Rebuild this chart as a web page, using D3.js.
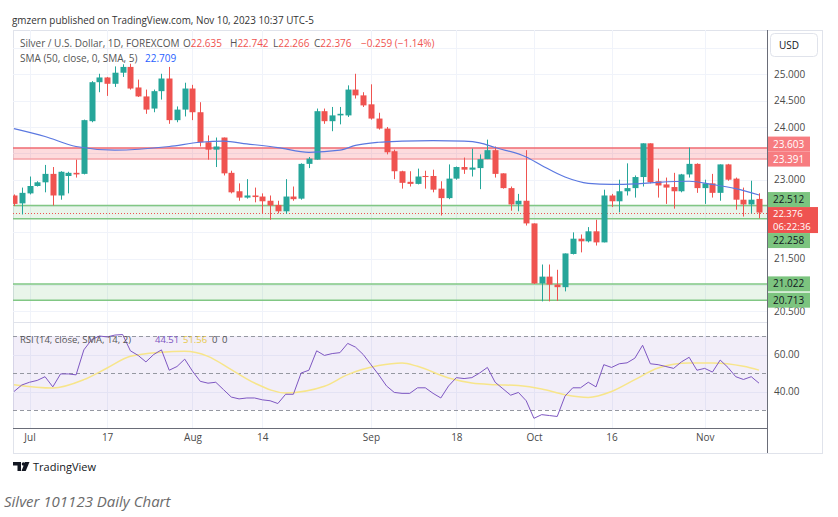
<!DOCTYPE html>
<html>
<head>
<meta charset="utf-8">
<script src="https://cdn.jsdelivr.net/npm/d3@7"></script>
<style>
  body { margin: 0; background: #fff; }
  text { font-family: "Open Sans", sans-serif; }
</style>
</head>
<body>
<div id="chart"></div>
<script>
// daily candles, Jun 29 -> Nov 10 2023 (index 0..96)
var open  = [22.70,22.55,22.74,22.88,22.95,23.11,22.70,23.07,23.13,23.11,24.11,24.85,24.94,24.82,25.03,25.14,24.75,24.58,24.35,24.68,
             24.92,24.13,24.33,24.73,24.28,23.71,23.57,23.80,23.13,22.78,22.66,22.70,22.68,22.60,22.52,22.40,22.68,22.64,23.30,23.38,
             24.30,24.11,24.22,24.22,24.71,24.60,24.43,24.16,23.97,23.54,23.16,22.96,22.92,23.07,23.07,22.83,22.65,23.02,23.24,23.19,
             23.22,23.39,23.56,23.12,22.84,22.53,22.60,22.17,21.03,21.16,21.01,20.96,21.59,21.88,21.83,22.02,21.81,22.70,22.59,22.78,
             22.84,23.05,23.69,22.97,22.91,22.86,22.78,23.10,23.30,22.84,22.93,22.75,23.29,23.02,22.62,22.53,22.635];
var high  = [22.72,22.85,23.06,22.97,23.28,23.24,23.16,23.15,23.38,24.14,24.87,25.01,24.95,25.15,25.19,25.20,24.90,24.71,24.71,25.01,
             25.14,24.39,24.84,24.80,24.47,23.84,23.80,23.80,23.17,22.93,23.01,22.85,22.74,22.70,22.60,23.01,22.87,23.31,23.43,24.35,
             24.35,24.38,24.38,24.79,25.01,24.66,24.81,24.27,24.00,23.57,23.17,23.16,23.21,23.17,23.19,22.97,23.29,23.25,23.42,23.59,
             23.48,23.76,23.63,23.12,22.87,22.73,23.56,22.17,21.39,21.39,21.29,21.60,22.00,21.96,22.10,22.24,22.81,22.73,23.00,23.31,
             23.08,23.69,23.69,23.21,23.04,23.13,23.11,23.61,23.31,23.00,23.11,23.29,23.30,23.04,22.85,22.98,22.742];
var low   = [22.50,22.34,22.72,22.87,22.76,22.51,22.62,22.74,23.04,23.10,24.09,24.66,24.59,24.76,24.95,24.71,24.57,24.25,24.28,24.52,
             24.06,24.09,24.20,24.13,23.63,23.38,23.24,23.08,22.74,22.60,22.64,22.57,22.36,22.24,22.36,22.35,22.60,22.62,23.22,23.38,
             24.06,23.92,24.05,24.19,24.54,24.38,24.14,23.95,23.48,23.01,22.83,22.87,22.91,22.83,22.76,22.32,22.63,23.00,23.11,23.06,
             22.82,23.39,23.04,22.83,22.41,22.40,22.13,21.02,20.69,20.69,20.70,20.88,21.58,21.62,21.81,21.75,21.81,22.48,22.38,22.70,
             22.66,22.87,22.93,22.66,22.54,22.45,22.76,23.04,22.75,22.54,22.66,22.60,22.98,22.43,22.30,22.36,22.266];
var close = [22.54,22.75,22.88,22.95,23.11,22.70,23.15,23.13,23.10,24.13,24.85,24.94,24.82,25.03,25.14,24.73,24.58,24.33,24.68,24.92,
             24.13,24.33,24.73,24.28,23.71,23.57,23.63,23.12,22.76,22.66,22.70,22.67,22.59,22.51,22.40,22.68,22.63,23.30,23.40,24.30,
             24.11,24.22,24.25,24.71,24.60,24.41,24.16,23.97,23.52,23.16,22.94,22.92,23.06,23.05,22.81,22.65,23.02,23.24,23.19,23.23,
             23.39,23.56,23.11,22.84,22.53,22.60,22.17,21.03,21.16,21.01,20.96,21.60,21.88,21.83,22.02,21.81,22.70,22.59,22.78,22.84,
             23.05,23.69,22.95,22.89,22.85,22.78,23.10,23.30,22.84,22.93,22.75,23.29,23.00,22.62,22.53,22.62,22.376];

// SMA 50 (candle index, value)
var smaIdx = [0,4,8,13,20,24,27,30,34,38,42,44,47,50,54,58,60,62,66,68,71,74,77,80,83,87,90,93,96];
var smaVal = [23.97,23.82,23.63,23.56,23.63,23.71,23.73,23.68,23.61,23.52,23.56,23.65,23.71,23.73,23.74,23.73,23.70,23.61,23.43,23.27,23.05,22.93,22.91,22.92,22.95,22.97,22.91,22.83,22.709];

// RSI 14 per candle
var rsi = [40,43.5,45,46,48,42.5,49.5,49.5,49,62.5,68,70,69.5,70.5,70.8,62,59.5,56,60,62.5,
           51.5,53.5,57.5,51,45.5,44.5,45,41,37,36,36.5,36.5,35.5,35,33.5,38.5,38.5,50,51.5,62,
           59.5,60.5,61,66,64,60,54.5,49,43,39.5,39,39,42,42,39,36.5,43,47.5,47,47.5,
           50,53,45,41.5,38,39.5,35,25.5,27.5,27,26.5,37.5,42,42,45,42.5,54.5,53,55,55.5,
           58,65,55,54.5,53.5,52.5,56,58.5,51.5,52.5,50.5,57,53,48,46.5,48,44.51];
// RSI smoothing line (candle index, value)
var rsiSmaIdx = [0,5,9,12,15,19,22,25,28,31,35,40,43,47,50,52,56,59,62,65,68,71,74,77,80,83,87,90,94,96];
var rsiSmaVal = [43.7,41.9,46.4,52.7,59,61.2,61.7,59,51.8,44.6,39.2,42.8,49.1,54,55.4,53.6,47.3,44.6,43.7,43.2,41.4,38.3,36.8,40,46.4,52.7,55.4,55.4,53.6,51.56];

// horizontal zones
var redZone = [23.391, 23.603];
var greenZones = [[22.258, 22.512], [20.713, 21.022]];
var lastPrice = 22.376, countdown = "06:22:36";

// axes
var tickIdx = [2, 12, 23, 32, 46, 57, 67, 77, 89];
var tickLabels = ["Jul", "17", "Aug", "14", "Sep", "18", "Oct", "16", "Nov"];
var priceTicks = [25, 24.5, 24, 23, 21.5, 20.5];
var priceGrid = [25.5, 25, 24.5, 24, 23.5, 23, 22.5, 22, 21.5, 21, 20.5];
var rsiTicks = [60, 40];

var W = 838, H = 517;
var plotL = 13, axisX = 767, plotR = 822;
var plotT = 30, pane1B = 322, pane2T = 323, pane2B = 428, plotB = 453;

var up = "#26a69a", down = "#ef5350";
var fs = "10px";

var svg = d3.select("#chart").append("svg")
    .attr("width", W).attr("height", H);

svg.append("rect").attr("width", W).attr("height", H).attr("fill", "#fff");

var x = d3.scaleLinear().domain([0, 96]).range([14, 759]);
var y = d3.scaleLinear().domain([20.5, 25]).range([311.4, 74.3]);
var yr = d3.scaleLinear().domain([30, 70]).range([410, 336]);

var defs = svg.append("defs");
defs.append("clipPath").attr("id", "clipP").append("rect")
    .attr("x", plotL).attr("y", plotT).attr("width", axisX - plotL).attr("height", pane1B - plotT);
defs.append("clipPath").attr("id", "clipR").append("rect")
    .attr("x", plotL).attr("y", pane2T).attr("width", axisX - plotL).attr("height", pane2B - pane2T);

// header
svg.append("text").attr("x", 12).attr("y", 24)
    .style("font-size", "9.9px").attr("fill", "#333")
    .text("gmzern published on TradingView.com, Nov 10, 2023 10:37 UTC-5");

// frame
svg.append("rect").attr("x", plotL + 0.5).attr("y", plotT + 0.5)
    .attr("width", plotR - plotL).attr("height", plotB - plotT)
    .attr("fill", "none").attr("stroke", "#e0e3eb");

// grid
var grid = svg.append("g").attr("stroke", "#f0f3fa").attr("stroke-width", 1);
priceGrid.forEach(function (p) {
    grid.append("line").attr("x1", plotL).attr("x2", axisX)
        .attr("y1", Math.round(y(p)) + 0.5).attr("y2", Math.round(y(p)) + 0.5);
});
rsiTicks.forEach(function (r) {
    grid.append("line").attr("x1", plotL).attr("x2", axisX)
        .attr("y1", Math.round(yr(r)) + 0.5).attr("y2", Math.round(yr(r)) + 0.5);
});
tickIdx.forEach(function (i) {
    grid.append("line").attr("y1", plotT).attr("y2", pane2B)
        .attr("x1", Math.round(x(i)) + 0.5).attr("x2", Math.round(x(i)) + 0.5);
});

// price pane
var pp = svg.append("g").attr("clip-path", "url(#clipP)");

pp.append("rect").attr("x", plotL).attr("width", axisX - plotL)
    .attr("y", y(redZone[1])).attr("height", y(redZone[0]) - y(redZone[1]))
    .attr("fill", "rgba(242,54,69,0.18)");
pp.append("line").attr("x1", plotL).attr("x2", axisX)
    .attr("y1", y(redZone[1])).attr("y2", y(redZone[1]))
    .attr("stroke", "#ef6b72").attr("stroke-width", 1.5);
pp.append("line").attr("x1", plotL).attr("x2", axisX)
    .attr("y1", y(redZone[0])).attr("y2", y(redZone[0]))
    .attr("stroke", "#f5a3a7").attr("stroke-width", 1.5);

greenZones.forEach(function (z) {
    pp.append("rect").attr("x", plotL).attr("width", axisX - plotL)
        .attr("y", y(z[1])).attr("height", y(z[0]) - y(z[1]))
        .attr("fill", "rgba(76,175,80,0.12)");
    z.forEach(function (v) {
        pp.append("line").attr("x1", plotL).attr("x2", axisX)
            .attr("y1", y(v)).attr("y2", y(v))
            .attr("stroke", "#81c784").attr("stroke-width", 1.5);
    });
});

// last price dotted line
pp.append("line").attr("x1", plotL).attr("x2", axisX)
    .attr("y1", Math.round(y(lastPrice)) + 0.5).attr("y2", Math.round(y(lastPrice)) + 0.5)
    .attr("stroke", down).attr("stroke-dasharray", "1,2");

// candles
var candles = pp.append("g").selectAll("g")
    .data(d3.range(open.length))
    .enter().append("g")
    .attr("fill", function (i) { return close[i] >= open[i] ? up : down; })
    .attr("stroke", function (i) { return close[i] >= open[i] ? up : down; });

candles.append("line")
    .attr("x1", function (i) { return Math.round(x(i)) + 0.5; })
    .attr("x2", function (i) { return Math.round(x(i)) + 0.5; })
    .attr("y1", function (i) { return y(high[i]); })
    .attr("y2", function (i) { return y(low[i]); })
    .attr("stroke-width", 1);

candles.append("rect")
    .attr("x", function (i) { return Math.round(x(i)) - 2.5; })
    .attr("width", 6)
    .attr("y", function (i) { return y(Math.max(open[i], close[i])); })
    .attr("height", function (i) { return Math.max(1, Math.abs(y(open[i]) - y(close[i]))); })
    .attr("stroke", "none");

// SMA 50
pp.append("path")
    .datum(smaIdx)
    .attr("fill", "none").attr("stroke", "#5b78e0").attr("stroke-width", 1.2)
    .attr("d", d3.line()
        .x(function (d) { return x(d); })
        .y(function (d, k) { return y(smaVal[k]); })
        .curve(d3.curveMonotoneX));

// legends
var lg = svg.append("g").style("font-size", fs);
lg.append("text").attr("x", 20).attr("y", 47).attr("fill", "#555")
    .text("Silver / U.S. Dollar, 1D, FOREXCOM");
var ohlc = [["O", "22.635", 183], ["H", "22.742", 230], ["L", "22.266", 273], ["C", "22.376", 314]];
ohlc.forEach(function (o) {
    var t = lg.append("text").attr("x", o[2]).attr("y", 47);
    t.append("tspan").attr("fill", "#555").text(o[0]);
    t.append("tspan").attr("fill", down).text(o[1]);
});
lg.append("text").attr("x", 361).attr("y", 47).attr("fill", down).text("\u22120.259 (\u22121.14%)");
lg.append("text").attr("x", 20).attr("y", 62).attr("fill", "#555").text("SMA (50, close, 0, SMA, 5)");
lg.append("text").attr("x", 145).attr("y", 62).attr("fill", "#2962ff").text("22.709");

// RSI pane
svg.append("line").attr("x1", plotL).attr("x2", axisX)
    .attr("y1", pane1B + 0.5).attr("y2", pane1B + 0.5).attr("stroke", "#e0e3eb");

var rp = svg.append("g").attr("clip-path", "url(#clipR)");
rp.append("rect").attr("x", plotL).attr("width", axisX - plotL)
    .attr("y", yr(70)).attr("height", yr(30) - yr(70))
    .attr("fill", "rgba(126,87,194,0.1)");
[70, 50, 30].forEach(function (v) {
    rp.append("line").attr("x1", plotL).attr("x2", axisX)
        .attr("y1", Math.round(yr(v)) + 0.5).attr("y2", Math.round(yr(v)) + 0.5)
        .attr("stroke", "#9598a1").attr("stroke-dasharray", "4,3");
});
rp.append("path")
    .datum(rsiSmaIdx)
    .attr("fill", "none").attr("stroke", "#f7e58a").attr("stroke-width", 1.5)
    .attr("d", d3.line()
        .x(function (d) { return x(d); })
        .y(function (d, k) { return yr(rsiSmaVal[k]); })
        .curve(d3.curveMonotoneX));
rp.append("path")
    .datum(rsi)
    .attr("fill", "none").attr("stroke", "#7e57c2").attr("stroke-width", 1)
    .attr("d", d3.line()
        .x(function (d, i) { return x(i); })
        .y(function (d) { return yr(d); }));

var rl = svg.append("g").style("font-size", "9.5px");
rl.append("text").attr("x", 20).attr("y", 343).attr("fill", "#555").text("RSI (14, close, SMA, 14, 2)");
rl.append("text").attr("x", 155).attr("y", 343).attr("fill", "#7e57c2").text("44.51");
rl.append("text").attr("x", 183).attr("y", 343).attr("fill", "#e8c94a").text("51.56");
rl.append("text").attr("x", 212).attr("y", 343).attr("fill", "#555").text("0");
rl.append("text").attr("x", 222).attr("y", 343).attr("fill", "#555").text("0");

// axes lines
svg.append("line").attr("x1", axisX + 0.5).attr("x2", axisX + 0.5)
    .attr("y1", plotT).attr("y2", plotB).attr("stroke", "#6a6d78");
svg.append("line").attr("x1", plotL).attr("x2", axisX)
    .attr("y1", pane2B + 0.5).attr("y2", pane2B + 0.5).attr("stroke", "#6a6d78");

// right price axis
var yAxis = svg.append("g")
    .attr("transform", "translate(" + axisX + ",0)")
    .call(d3.axisRight(y).tickValues(priceTicks).tickSize(0).tickPadding(7).tickFormat(d3.format(".3f")));
yAxis.select(".domain").remove();
yAxis.selectAll("text").style("font-size", fs).attr("fill", "#4a4a4a").style("font-family", "Open Sans");

var rAxis = svg.append("g")
    .attr("transform", "translate(" + axisX + ",0)")
    .call(d3.axisRight(yr).tickValues(rsiTicks).tickSize(0).tickPadding(7).tickFormat(d3.format(".2f")));
rAxis.select(".domain").remove();
rAxis.selectAll("text").style("font-size", fs).attr("fill", "#4a4a4a").style("font-family", "Open Sans");

// time axis
var xAxis = svg.append("g")
    .attr("transform", "translate(0," + pane2B + ")")
    .call(d3.axisBottom(x).tickValues(tickIdx).tickSize(0).tickPadding(6)
        .tickFormat(function (d, k) { return tickLabels[k]; }));
xAxis.select(".domain").remove();
xAxis.selectAll("text").style("font-size", fs).attr("fill", "#4a4a4a").style("font-family", "Open Sans");

// price labels on the axis, pushed apart around the last price
var labels = [
    { v: redZone[1], fill: "#f77c80", txt: "#fff" },
    { v: redZone[0], fill: "#f77c80", txt: "#fff" },
    { v: greenZones[0][1], fill: "#7cc47f", txt: "#131722" },
    { v: lastPrice, fill: down, txt: "#fff", cur: true },
    { v: greenZones[0][0], fill: "#7cc47f", txt: "#131722" },
    { v: greenZones[1][1], fill: "#7cc47f", txt: "#131722" },
    { v: greenZones[1][0], fill: "#7cc47f", txt: "#131722" }
];
labels.forEach(function (l) {
    l.h = l.cur ? 26 : 15;
    l.top = l.cur ? y(l.v) - 5.5 : y(l.v) - 7.5;
});
var ci = 3;
for (var k = ci - 1; k >= 0; k--) {
    var below = labels[k + 1];
    if (labels[k].top + labels[k].h > below.top) labels[k].top = below.top - labels[k].h;
}
for (var k = ci + 1; k < labels.length; k++) {
    var above = labels[k - 1];
    if (labels[k].top < above.top + above.h) labels[k].top = above.top + above.h;
}
var lb = svg.append("g").style("font-size", fs);
labels.forEach(function (l) {
    lb.append("rect").attr("x", axisX + 1).attr("y", l.top)
        .attr("width", l.cur ? 50 : 42).attr("height", l.h)
        .attr("fill", l.fill);
    if (l.cur) {
        lb.append("text").attr("x", axisX + 6).attr("y", l.top + 10).attr("fill", l.txt)
            .style("font-size", "9.5px").text(l.v.toFixed(3));
        lb.append("text").attr("x", axisX + 6).attr("y", l.top + 23).attr("fill", l.txt)
            .style("font-size", "9.5px").text(countdown);
    } else {
        lb.append("text").attr("x", axisX + 6).attr("y", l.top + 11).attr("fill", l.txt).text(l.v.toFixed(3));
    }
});

// USD button
svg.append("rect").attr("x", 770.5).attr("y", 33.5).attr("width", 47).attr("height", 23).attr("rx", 4)
    .attr("fill", "#fff").attr("stroke", "#e0e3eb");
svg.append("text").attr("x", 779).attr("y", 49).style("font-size", "10px").attr("fill", "#131722").text("USD");

// TradingView logo + caption
var logo = svg.append("g").attr("fill", "#131722");
logo.append("path").attr("d", "M13,462h8v9h-3.5v-5.5h-4.5z");
logo.append("circle").attr("cx", 23.5).attr("cy", 464).attr("r", 1.8);
logo.append("path").attr("d", "M25,462h4.5l-3.8,9h-4.2z");
svg.append("text").attr("x", 33).attr("y", 471).style("font-size", "11px").attr("fill", "#131722").text("TradingView");

svg.append("text").attr("x", 4).attr("y", 507).style("font-size", "15px").style("font-style", "italic")
    .attr("fill", "#6b6b6b").text("Silver 101123 Daily Chart");
</script>
</body>
</html>
